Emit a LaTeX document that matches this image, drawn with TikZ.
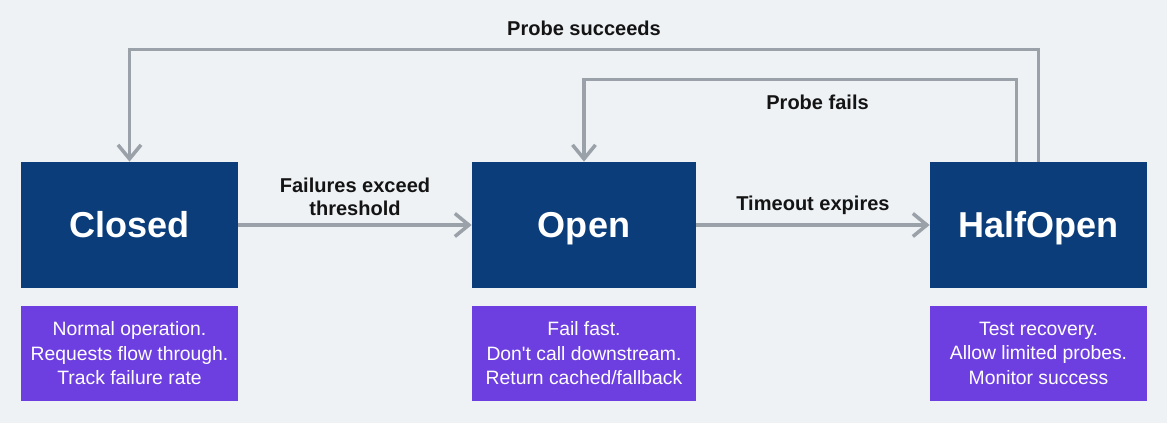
\documentclass[tikz,border=0pt]{standalone}
\usepackage{fontspec}
\setmainfont{Liberation Sans}
\usetikzlibrary{arrows.meta, positioning}
\definecolor{bgcol}{HTML}{EEF2F5}
\definecolor{statecol}{HTML}{0B3D7B}
\definecolor{desccol}{HTML}{6E3FE0}
\definecolor{linecol}{HTML}{9BA1A9}
\definecolor{labelcol}{HTML}{141414}

\begin{document}
\begin{tikzpicture}[
    state/.style={rectangle, fill=statecol, text=white, minimum width=4.34cm, minimum height=2.52cm, text height=14.8pt, text depth=0pt, font=\fontsize{20.5}{24}\selectfont\bfseries},
    desc/.style={rectangle, fill=desccol, text=white, minimum width=4.34cm, minimum height=1.9cm, align=center, font=\fontsize{11}{14}\selectfont},
    flow/.style={draw=linecol, line width=2pt, -{Straight Barb[length=2.8mm, width=4.6mm]}},
    lbl/.style={text=labelcol, font=\fontsize{11.4}{13}\selectfont\bfseries, align=center}]

    \fill[bgcol] (0,0) rectangle (23.34,8.46);
    \useasboundingbox (0,0) rectangle (23.34,8.46);

    % States
    \node at (2.59, 3.96) [state] (closed) {Closed};
    \node at (11.68, 3.96) [state, minimum width=4.48cm] (open) {Open};
    \node at (20.77, 3.96) [state] (halfopen) {HalfOpen};

    % Descriptions
    \node [desc, below=0.34cm of closed] (closeddesc) {Normal operation.\\Requests flow through.\\Track failure rate};
    \node [desc, minimum width=4.48cm, below=0.34cm of open] (opendesc) {Fail fast.\\Don\textquotesingle t call downstream.\\Return cached/fallback};
    \node [desc, below=0.34cm of halfopen] (halfdesc) {Test recovery.\\Allow limited probes.\\Monitor success};

    % Transitions
    \draw[flow] (closed.east) -- (open.west) node[lbl, midway, above=0.04cm] {Failures exceed\\threshold};
    \draw[flow] (open.east) -- (halfopen.west) node[lbl, midway, above=0.05cm] {Timeout expires};

    \draw[flow] (halfopen.north) -- ++(0, 2.24) -| (closed.north) node[lbl, pos=0.25, above=0.12cm] {Probe succeeds};
    \draw[flow] ([xshift=-0.44cm] halfopen.north) -- ++(0, 1.64) -| (open.north) node[lbl, pos=0.23, below=0.16cm] {Probe fails};

\end{tikzpicture}
\end{document}
